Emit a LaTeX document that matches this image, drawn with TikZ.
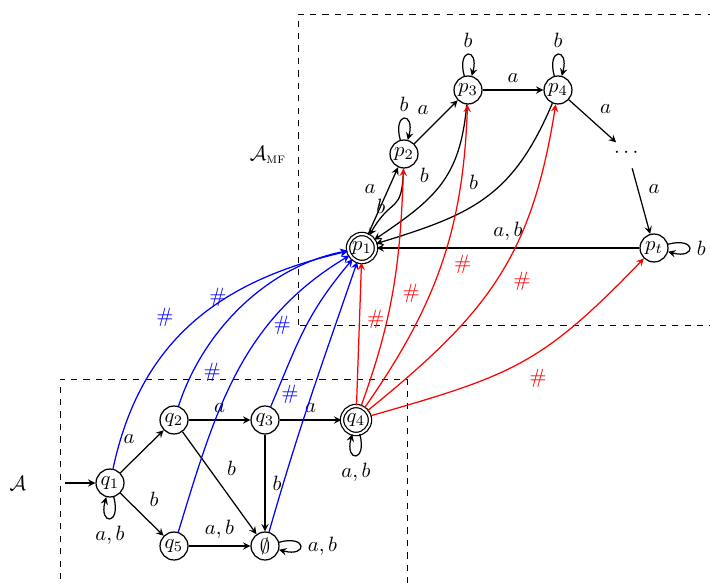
\documentclass[tikz,border=0pt]{standalone}
\usepackage{amsmath}
\usepackage{tikz}
\usetikzlibrary{arrows}
\tikzstyle{statenode} = [
    circle,
    minimum size=13.5pt,
    inner sep=0pt,
    semithick,
    draw=black
]
\tikzstyle{finalnode} = [
    statenode,
    double,
    double distance=1pt
]
\tikzstyle{arrow} = [semithick,->,>=stealth]
\tikzstyle{bluearrow} = [arrow,blue]
\tikzstyle{redarrow} = [arrow,red]
\tikzstyle{frame} = [dashed]

\begin{document}
\begin{tikzpicture}[x=0.483pt,y=0.483pt]

\useasboundingbox (0,0) rectangle (710,584);

% dashed frames
\draw [frame] (60,-20) rectangle (407,205);
\draw [frame] (298,259) rectangle (730,570);
\node (labA) at (18,101) {$\mathcal{A}$};
\node (labMF) at (268,429) {$\mathcal{A}_{\textsc{mf}}$};

% states of A
\coordinate (init) at (65,101);
\node (q1) [statenode] at (110,101) {$q_1$};
\node (q2) [statenode] at (174,164) {$q_2$};
\node (q3) [statenode] at (265,164) {$q_3$};
\node (q4) [finalnode] at (356,164) {$q_4$};
\node (q5) [statenode] at (174,38) {$q_5$};
\node (qe) [statenode] at (265,38) {$\emptyset$};

% states of A_MF
\node (p1) [finalnode] at (362,336) {$p_1$};
\node (p2) [statenode] at (404,430) {$p_2$};
\node (p3) [statenode] at (468,494) {$p_3$};
\node (p4) [statenode] at (558,494) {$p_4$};
\node (pdots) [circle, minimum size=15pt, inner sep=0pt] at (628,431) {$\cdots$};
\node (pt) [statenode] at (654,336) {$p_t$};

\draw [arrow] (init) -- (q1);
\draw [arrow] (q1) to[loop below] node[below] {$a,b$} (q1);
\draw [arrow] (q1) -- node[auto] {$a$} (q2);
\draw [arrow] (q1) -- node[auto] {$b$} (q5);
\draw [arrow] (q2) -- node[auto] {$a$} (q3);
\draw [arrow] (q3) -- node[auto] {$a$} (q4);
\draw [arrow] (q2) -- node[auto] {$b$} (qe);
\draw [arrow] (q3) -- node[auto] {$b$} (qe);
\draw [arrow] (q5) -- node[auto] {$a,b$} (qe);
\draw [arrow] (qe) to[loop right] node[right] {$a,b$} (qe);
\draw [arrow] (q4) to[loop below] node[below] {$a,b$} (q4);

\draw [arrow] (p1) -- node[auto] {$a$} (p2);
\draw [arrow] (p2) to[out=268,in=60,looseness=1.6] node[left,pos=0.55] {$b$} (p1);
\draw [arrow] (p2) to[loop above] node[above] {$b$} (p2);
\draw [arrow] (p2) -- node[auto] {$a$} (p3);
\draw [arrow] (p3) to[loop above] node[above] {$b$} (p3);
\draw [arrow] (p3) -- node[auto] {$a$} (p4);
\draw [arrow] (p3) to[out=265,in=34,looseness=1.15] node[auto,swap,pos=0.55] {$b$} (p1);
\draw [arrow] (p4) to[loop above] node[above] {$b$} (p4);
\draw [arrow] (p4) to[out=247,in=17,looseness=1.15] node[auto,swap,pos=0.5] {$b$} (p1);
\draw [arrow] (p4) -- node[auto] {$a$} (pdots);
\draw [arrow] (pdots) -- node[auto] {$a$} (pt);
\draw [arrow] (pt) -- node[auto,swap] {$a,b$} (p1);
\draw [arrow] (pt) to[loop right] node[right] {$b$} (pt);

% # transitions into A_MF
\draw [bluearrow] (q1) to[out=78,in=193,looseness=1.05] node[auto,pos=0.45] {$\#$} (p1);
\draw [bluearrow] (q2) to[out=72,in=191,looseness=0.9] node[auto,pos=0.45] {$\#$} (p1);
\draw [bluearrow] (q5) to[out=73,in=211] node[auto,pos=0.44] {$\#$} (p1);
\draw [bluearrow] (q3) to[out=67,in=230,looseness=1.1] node[auto,pos=0.4] {$\#$} (p1);
\draw [bluearrow] (qe) to[out=74,in=251] node[auto,pos=0.44] {$\#$} (p1);

\draw [redarrow] (q4) -- node[auto,swap,pos=0.6] {$\#$} (p1);
\draw [redarrow] (q4) to[out=70,in=268] node[auto,swap,pos=0.56] {$\#$} (p2);
\draw [redarrow] (q4) to[out=55,in=268] node[auto,swap,pos=0.56] {$\#$} (p3);
\draw [redarrow] (q4) to[out=39,in=261,looseness=1.1] node[auto,swap,pos=0.55] {$\#$} (p4);
\draw [redarrow] (q4) to[out=16,in=226,looseness=1.2] node[auto,swap,pos=0.5] {$\#$} (pt);

\end{tikzpicture}
\end{document}
